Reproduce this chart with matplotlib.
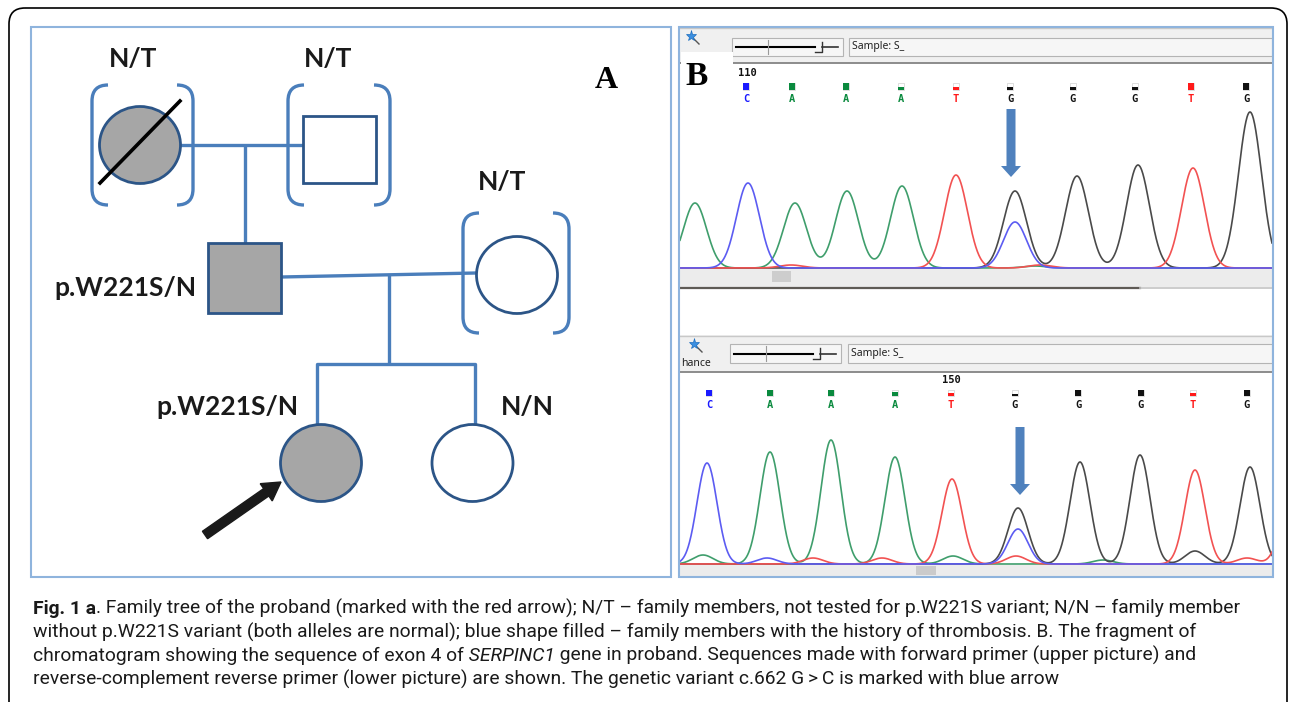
import numpy as np
import matplotlib
matplotlib.use("Agg")
import matplotlib.pyplot as plt
from matplotlib.patches import Rectangle, Ellipse, FancyArrow, FancyBboxPatch, PathPatch
from matplotlib.path import Path

W, H = 1293, 702

# ============================================================
# Data
# ============================================================
# --- A: pedigree ---
members = ["grandmother", "grandfather", "father", "mother", "proband", "sister"]
sex = ["F", "M", "M", "F", "F", "F"]
affected = [True, False, True, False, True, False]
deceased = [True, False, False, False, False, False]
not_tested = [True, True, False, True, False, False]
genotype = ["N/T", "N/T", "p.W221S/N", "N/T", "p.W221S/N", "N/N"]

# --- B: chromatogram, forward primer (upper picture) ---
up_start = "110"
up_calls = ["C", "A", "A", "A", "T", "G", "G", "G", "T", "G"]
up_call_pos = [746, 792, 846, 901, 956, 1010, 1073, 1135, 1191, 1246]
up_call_qv = [1.0, 1.0, 1.0, 0.4, 0.45, 0.35, 0.35, 0.35, 1.0, 1.0]
up_peak_base = ["A", "C", "A", "A", "A", "T", "G", "G", "G", "T", "G", "C", "T", "T", "A"]
up_peak_pos = [695, 748, 795, 847, 902, 956, 1015, 1077, 1138, 1193, 1250, 1015, 791, 1040, 1035]
up_peak_h = [65, 85, 65, 77, 82, 93, 77, 92, 103, 100, 156, 46, 3, 3, 2]

# --- B: chromatogram, reverse-complement reverse primer (lower picture) ---
lo_start = "150"
lo_calls = ["C", "A", "A", "A", "T", "G", "G", "G", "T", "G"]
lo_call_pos = [709, 770, 831, 895, 951, 1015, 1078, 1141, 1193, 1247]
lo_call_qv = [1.0, 1.0, 1.0, 0.55, 0.45, 0.35, 1.0, 1.0, 0.45, 1.0]
lo_peak_base = ["C", "A", "A", "A", "T", "G", "G", "G", "T", "G", "C",
                "A", "C", "T", "T", "A", "T", "A", "G", "T", "T"]
lo_peak_pos = [707, 770, 831, 895, 952, 1018, 1080, 1140, 1195, 1250, 1018,
               703, 767, 813, 882, 953, 1016, 1103, 1195, 1247, 1290]
lo_peak_h = [101, 112, 124, 107, 85, 56, 102, 109, 94, 97, 35,
             9, 6, 6, 6, 8, 8, 4, 13, 6, 60]

# --- caption ---
caption = [
    [("Fig. 1 a", "bold"), (". Family tree of the proband (marked with the red arrow); N/T \u2013 family members, "
                            "not tested for p.W221S variant; N/N \u2013 family member", "normal")],
    [("without p.W221S variant (both alleles are normal); blue shape filled \u2013 family members with "
      "the history of thrombosis. B. The fragment of", "normal")],
    [("chromatogram showing the sequence of exon 4 of", "normal"), (" SERPINC1", "italic"),
     (" gene in proband. Sequences made with forward primer (upper picture) and", "normal")],
    [("reverse-complement reverse primer (lower picture) are shown. The genetic variant c.662 G\u2009>\u2009C "
      "is marked with blue arrow", "normal")],
]

# ============================================================
# Styles
# ============================================================
LINE = "#4a7ebb"
EDGE = "#2c5587"
GRAY = "#a6a6a6"
FRAME = "#8fb4dd"
ARROW = "#4f81bd"
trace_col = {"A": "#3f9e6c", "C": "#5c5cf2", "G": "#4a4a4a", "T": "#f25252"}
call_col = {"A": "#0a8a3e", "C": "#1a1aff", "G": "#111111", "T": "#ff1a1a"}
ped_font = ["Lato", "DejaVu Sans"]
cap_font = ["Roboto", "DejaVu Sans"]

fig = plt.figure(figsize=(W / 100, H / 100), dpi=100)
fig.patch.set_facecolor("white")

ax = fig.add_axes([0, 0, 1, 1], zorder=2)
ax.set_xlim(0, W)
ax.set_ylim(H, 0)
ax.axis("off")
ax.patch.set_alpha(0)


def px_axes(x0, x1, y0, y1):
    a = fig.add_axes([x0 / W, 1 - y1 / H, (x1 - x0) / W, (y1 - y0) / H], zorder=1)
    a.axis("off")
    return a


# outer rounded frame
ax.add_patch(FancyBboxPatch((9, 8), 1278, 720, boxstyle="round,pad=0,rounding_size=16",
                            fc="none", ec="black", lw=1.2))

# ============================================================
# A: pedigree
# ============================================================
sym_pos = {"grandmother": (140, 145), "grandfather": (339.5, 149.5), "father": (244.5, 278),
           "mother": (517, 275), "proband": (321, 463), "sister": (472.5, 463)}
sq_size = {"grandfather": (73, 67), "father": (73, 70)}
brackets = {"grandmother": (92, 193, 85, 205), "grandfather": (288, 390, 85, 205),
            "mother": (463, 569, 213, 333)}
label_pos = {"grandmother": (133, 67, "center"), "grandfather": (328, 67, "center"),
             "father": (196, 296, "right"), "mother": (502, 190, "center"),
             "proband": (298, 415, "right"), "sister": (527, 415, "center")}

lines = [
    [(180, 145), (303, 145)],
    [(245, 145), (245, 243)],
    [(281, 277), (476, 273)],
    [(389, 275), (389, 364)],
    [(317, 424), (317, 364), (475, 364), (475, 424)],
]
for ln in lines:
    xs, ys = zip(*ln)
    ax.plot(xs, ys, color=LINE, lw=2.4, solid_capstyle="butt", zorder=3)


def bracket(x, y0, y1, hook):
    verts = [(x + hook, y0), (x, y0), (x, y0 + abs(hook)), (x, y1 - abs(hook)), (x, y1), (x + hook, y1)]
    codes = [Path.MOVETO, Path.CURVE3, Path.CURVE3, Path.LINETO, Path.CURVE3, Path.CURVE3]
    ax.add_patch(PathPatch(Path(verts, codes), fc="none", ec=LINE, lw=2.4, zorder=3))


for i, m in enumerate(members):
    cx, cy = sym_pos[m]
    fc = GRAY if affected[i] else "white"
    if sex[i] == "M":
        w, h = sq_size[m]
        ax.add_patch(Rectangle((cx - w / 2, cy - h / 2), w, h, fc=fc, ec=EDGE, lw=2, zorder=4))
    else:
        ax.add_patch(Ellipse((cx, cy), 81, 77, fc=fc, ec=EDGE, lw=2, zorder=4))
    if deceased[i]:
        ax.plot([cx - 40, cx + 40], [cy + 38, cy - 44], color="black", lw=2.6, zorder=5)
    if not_tested[i]:
        xl, xr, y0, y1 = brackets[m]
        bracket(xl, y0, y1, 16)
        bracket(xr, y0, y1, -16)
    lx, ly, ha = label_pos[m]
    ax.text(lx, ly, genotype[i], ha=ha, va="baseline", fontsize=19, fontweight="bold",
            family=ped_font, color="#1a1a1a", zorder=5)

# proband arrow
ax.add_patch(FancyArrow(205, 535, 76, -53, width=9, head_width=21, head_length=18,
                        length_includes_head=True, fc="#1a1a1a", ec="#1a1a1a", zorder=5))
ax.text(606, 88, "A", ha="center", va="baseline", fontsize=23, fontweight="bold",
        family="Liberation Serif")

# ============================================================
# B: chromatograms
# ============================================================
def toolbar(y_top, y_bot, y_box0, y_box1, x_slider0, x_sample0, icon_xy, enhance):
    ax.add_patch(Rectangle((680, y_top), 592, y_bot - y_top, fc="#f0f0f0", ec="none"))
    ax.plot([680, 1272], [y_top + 1, y_top + 1], color="#c8c8c8", lw=1)
    ax.plot([680, 1272], [y_bot, y_bot], color="#8c8c8c", lw=1.4)
    # slider
    ax.add_patch(Rectangle((x_slider0, y_box0), 111, y_box1 - y_box0, fc="#f6f6f6", ec="#b4b4b4", lw=0.8))
    ym = (y_box0 + y_box1) / 2
    ax.plot([x_slider0 + 4, x_slider0 + 83], [ym, ym], color="black", lw=1.5)
    ax.plot([x_slider0 + 36, x_slider0 + 36], [y_box0 + 2, y_box1 - 2], color="#9a9a9a", lw=0.8)
    ax.plot([x_slider0 + 83, x_slider0 + 90, x_slider0 + 90], [y_box1 - 4, y_box1 - 4, y_box0 + 4],
            color="#333333", lw=1)
    ax.plot([x_slider0 + 90, x_slider0 + 106], [ym, ym], color="#333333", lw=1.2)
    # sample box
    ax.add_patch(Rectangle((x_sample0, y_box0), 1272 - x_sample0, y_box1 - y_box0,
                           fc="#f6f6f6", ec="#b4b4b4", lw=0.8))
    ax.text(x_sample0 + 3, ym, "Sample: S_", ha="left", va="center", fontsize=7.5,
            family="Noto Sans", color="#222222")
    # magic wand icon
    ax.plot([icon_xy[0] + 2, icon_xy[0] + 8], [icon_xy[1] + 2, icon_xy[1] + 8], color="#555555", lw=1)
    ax.plot(icon_xy[0], icon_xy[1], marker="*", ms=8, color="#3b8fe0", mec="#1f6fc0", mew=0.5)
    if enhance:
        ax.text(681, y_box1 + 3, "hance", ha="left", va="baseline", fontsize=7.5,
                family="Noto Sans", color="#222222")


toolbar(27, 63, 38, 56, 732, 849, (691, 36), False)
toolbar(335, 372, 344, 363, 730, 848, (694, 344), True)

# scroll bands under the traces
ax.add_patch(Rectangle((680, 269), 592, 18, fc="#ececec", ec="none"))
ax.add_patch(Rectangle((772, 271), 19, 11, fc="#cdcdcd", ec="none"))
ax.plot([680, 1140], [288, 288], color="#5e5a55", lw=1.6)
ax.plot([1140, 1272], [288, 288], color="#c4c4c4", lw=1.2)
ax.add_patch(Rectangle((680, 565), 592, 11, fc="#ececec", ec="none"))
ax.add_patch(Rectangle((916, 566), 20, 9, fc="#cbcbcb", ec="none"))


def base_calls(calls, pos, qv, start, start_x, y_num, y_box, y_let):
    ax.text(start_x, y_num, start, ha="center", va="center", fontsize=7.5, fontweight="bold",
            family="DejaVu Sans Mono", color="#111111")
    for b, x, q in zip(calls, pos, qv):
        ax.add_patch(Rectangle((x - 3.3, y_box), 6.6, 6.6, fc="white", ec="#d0d0d0", lw=0.5))
        ax.add_patch(Rectangle((x - 3.3, y_box + 6.6 * (1 - q)), 6.6, 6.6 * q, fc=call_col[b], ec="none"))
        ax.text(x, y_let, b, ha="center", va="center", fontsize=7.5, fontweight="bold",
                family="DejaVu Sans Mono", color=call_col[b])


base_calls(up_calls, up_call_pos, up_call_qv, up_start, up_call_pos[0] + 1, 73, 83, 99)
base_calls(lo_calls, lo_call_pos, lo_call_qv, lo_start, lo_call_pos[4], 380, 389.5, 405)


def trace(a, base, pos, h, sigma):
    x = np.linspace(680, 1272, 1500)
    for b in ["A", "G", "T", "C"]:
        y = np.zeros_like(x)
        for bb, p, hh in zip(base, pos, h):
            if bb == b:
                y += hh * np.exp(-(x - p) ** 2 / (2 * sigma ** 2))
        a.plot(x, y, color=trace_col[b], lw=1.2, solid_joinstyle="round")


ax_up = px_axes(680, 1272, 100, 269)
ax_up.set_xlim(680, 1272)
ax_up.set_ylim(-1, 168)
trace(ax_up, up_peak_base, up_peak_pos, up_peak_h, 11.5)

ax_lo = px_axes(680, 1272, 405, 565)
ax_lo.set_xlim(680, 1272)
ax_lo.set_ylim(-1, 159)
trace(ax_lo, lo_peak_base, lo_peak_pos, lo_peak_h, 10)

# variant arrows
ax.add_patch(FancyArrow(1011, 109, 0, 68, width=9, head_width=20, head_length=11,
                        length_includes_head=True, fc=ARROW, ec="none", zorder=6))
ax.add_patch(FancyArrow(1020, 427, 0, 68, width=9, head_width=20, head_length=11,
                        length_includes_head=True, fc=ARROW, ec="none", zorder=6))

# label B on white patch
ax.add_patch(Rectangle((681, 52), 52, 46, fc="white", ec="none", zorder=6))
ax.text(697, 85, "B", ha="center", va="baseline", fontsize=24, fontweight="bold",
        family="Liberation Serif", zorder=7)

# panel frames
ax.add_patch(Rectangle((31, 27), 640, 550, fc="none", ec=FRAME, lw=1.5, zorder=8))
ax.add_patch(Rectangle((679, 27), 594, 550, fc="none", ec=FRAME, lw=1.5, zorder=8))

# ============================================================
# Caption
# ============================================================
r = fig.canvas.get_renderer()
probe = ax.text(0, 0, caption[1][0][0], fontsize=10, family=cap_font)
cap_size = 10 * 1166 / probe.get_window_extent(r).width
probe.remove()

for k, segs in enumerate(caption):
    x = 33
    y = 614 + k * 23.5
    for s, style in segs:
        t = ax.text(x, y, s, ha="left", va="baseline", fontsize=cap_size, family=cap_font,
                    fontweight="bold" if style == "bold" else "normal",
                    fontstyle="italic" if style == "italic" else "normal", color="#1a1a1a")
        x += t.get_window_extent(r).width

fig.savefig("out.png", dpi=100, facecolor="white")
